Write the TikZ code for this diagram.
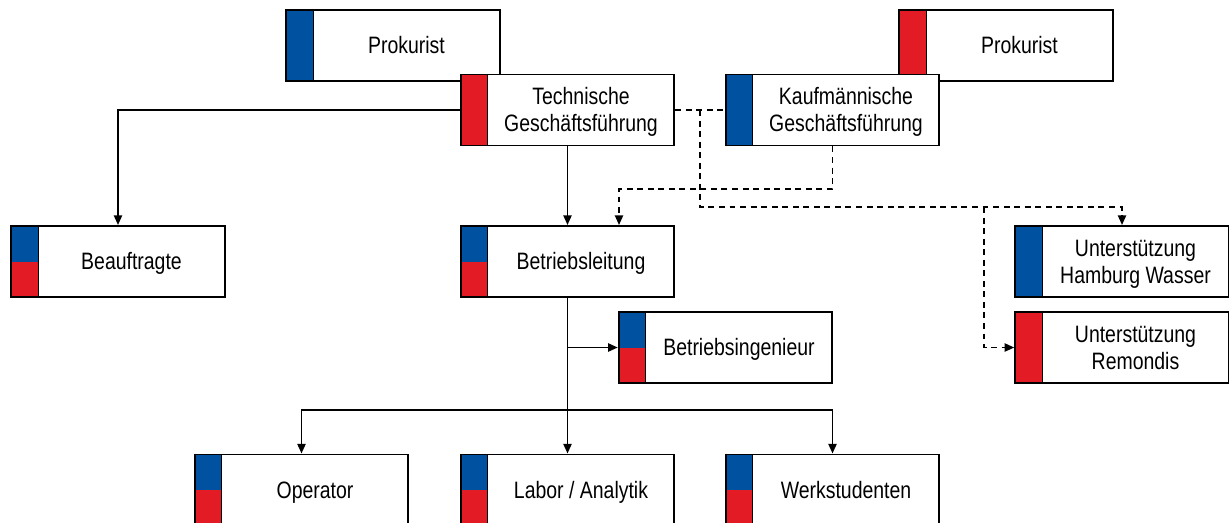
\documentclass[tikz,border=0pt]{standalone}
\usepackage{fontspec}
\setmainfont{Liberation Sans}[FakeStretch=0.82]
\usetikzlibrary{arrows.meta}

\definecolor{hhblue}{RGB}{0,81,160}
\definecolor{hhred}{RGB}{227,27,36}
\newlength{\barw}
\setlength{\barw}{0.54cm}
\newcommand{\unitlabel}[1]{\hspace*{\barw}\raisebox{-1.6pt}[\height][\depth]{\begin{tabular}{@{}c@{}}#1\end{tabular}}}

\tikzset{
    unit/.style={draw, line width=1.1pt, fill=white, minimum width=4.27cm, minimum height=1.42cm, inner sep=0pt},
    barline/.style={line width=0.5pt},
    bluebar/.style={unit, path picture={
        \fill[hhblue] (path picture bounding box.north west) rectangle ([xshift=\barw]path picture bounding box.south west);
        \draw[barline] ([xshift=\barw]path picture bounding box.north west) -- ([xshift=\barw]path picture bounding box.south west);}},
    redbar/.style={unit, path picture={
        \fill[hhred] (path picture bounding box.north west) rectangle ([xshift=\barw]path picture bounding box.south west);
        \draw[barline] ([xshift=\barw]path picture bounding box.north west) -- ([xshift=\barw]path picture bounding box.south west);}},
    mixbar/.style={unit, path picture={
        \fill[hhblue] (path picture bounding box.north west) rectangle ([xshift=\barw]path picture bounding box.west);
        \fill[hhred] (path picture bounding box.west) rectangle ([xshift=\barw]path picture bounding box.south west);
        \draw[barline] ([xshift=\barw]path picture bounding box.north west) -- ([xshift=\barw]path picture bounding box.south west);}},
}

\begin{document}
\begin{tikzpicture}[x=0.02cm, y=-0.02cm, font=\fontsize{13.5}{15.4}\selectfont,
    >={Triangle[length=5.5pt,width=4.6pt]},
    conn/.style={line width=1.1pt},
    dconn/.style={conn, dash pattern=on 3.4pt off 2.6pt}]
    \useasboundingbox (0,0) rectangle (1229,522);
    \clip (0,0) rectangle (1229,522);

    % Geschaeftsfuehrung with Prokuristen
    \node[bluebar] (prokT) at (393,45.5) {\unitlabel{Prokurist}};
    \node[redbar] (prokK) at (1006,45.5) {\unitlabel{Prokurist}};
    \node[redbar] (tgf) at (567.5,110) {\unitlabel{Technische\\Geschäftsführung}};
    \node[bluebar] (kgf) at (832.5,110) {\unitlabel{Kaufmännische\\Geschäftsführung}};

    % second level
    \node[mixbar] (beauf) at (118,261.5) {\unitlabel{Beauftragte}};
    \node[mixbar] (bl) at (567.5,261.5) {\unitlabel{Betriebsleitung}};
    \node[mixbar] (bing) at (725.5,347.5) {\unitlabel{Betriebsingenieur}};
    \node[bluebar] (uhw) at (1122,261.5) {\unitlabel{Unterstützung\\Hamburg Wasser}};
    \node[redbar] (urem) at (1122,347.5) {\unitlabel{Unterstützung\\Remondis}};

    % staff
    \node[mixbar] (op) at (301.5,490) {\unitlabel{Operator}};
    \node[mixbar] (lab) at (567.5,490) {\unitlabel{Labor / Analytik}};
    \node[mixbar] (ws) at (832.5,490) {\unitlabel{Werkstudenten}};

    % solid lines
    \draw[conn, ->] (tgf.west) -| (beauf.north);
    \draw[conn, ->] (tgf.south) -- (bl.north);
    \draw[conn, ->] (bl.south) -- (lab.north);
    \draw[conn, ->] (bl.south |- bing.west) -- (bing.west);
    \coordinate (fork) at (567.5,410);
    \draw[conn, ->] (fork) -| (op.north);
    \draw[conn, ->] (fork) -| (ws.north);

    % dashed lines
    \coordinate (gfsplit) at (700,110);
    \coordinate (supsplit) at (700,207);
    \coordinate (remsplit) at (984,207);
    \coordinate (kgfbend) at (619,189);
    \draw[dconn] (tgf.east) -- (kgf.west);
    \draw[dconn, ->] (gfsplit) -- (supsplit) -| (uhw.north);
    \draw[dconn, ->] (remsplit) |- (urem.west);
    \draw[dconn, ->] (kgf.south) |- (kgfbend) -- (kgfbend |- bl.north);
\end{tikzpicture}
\end{document}
